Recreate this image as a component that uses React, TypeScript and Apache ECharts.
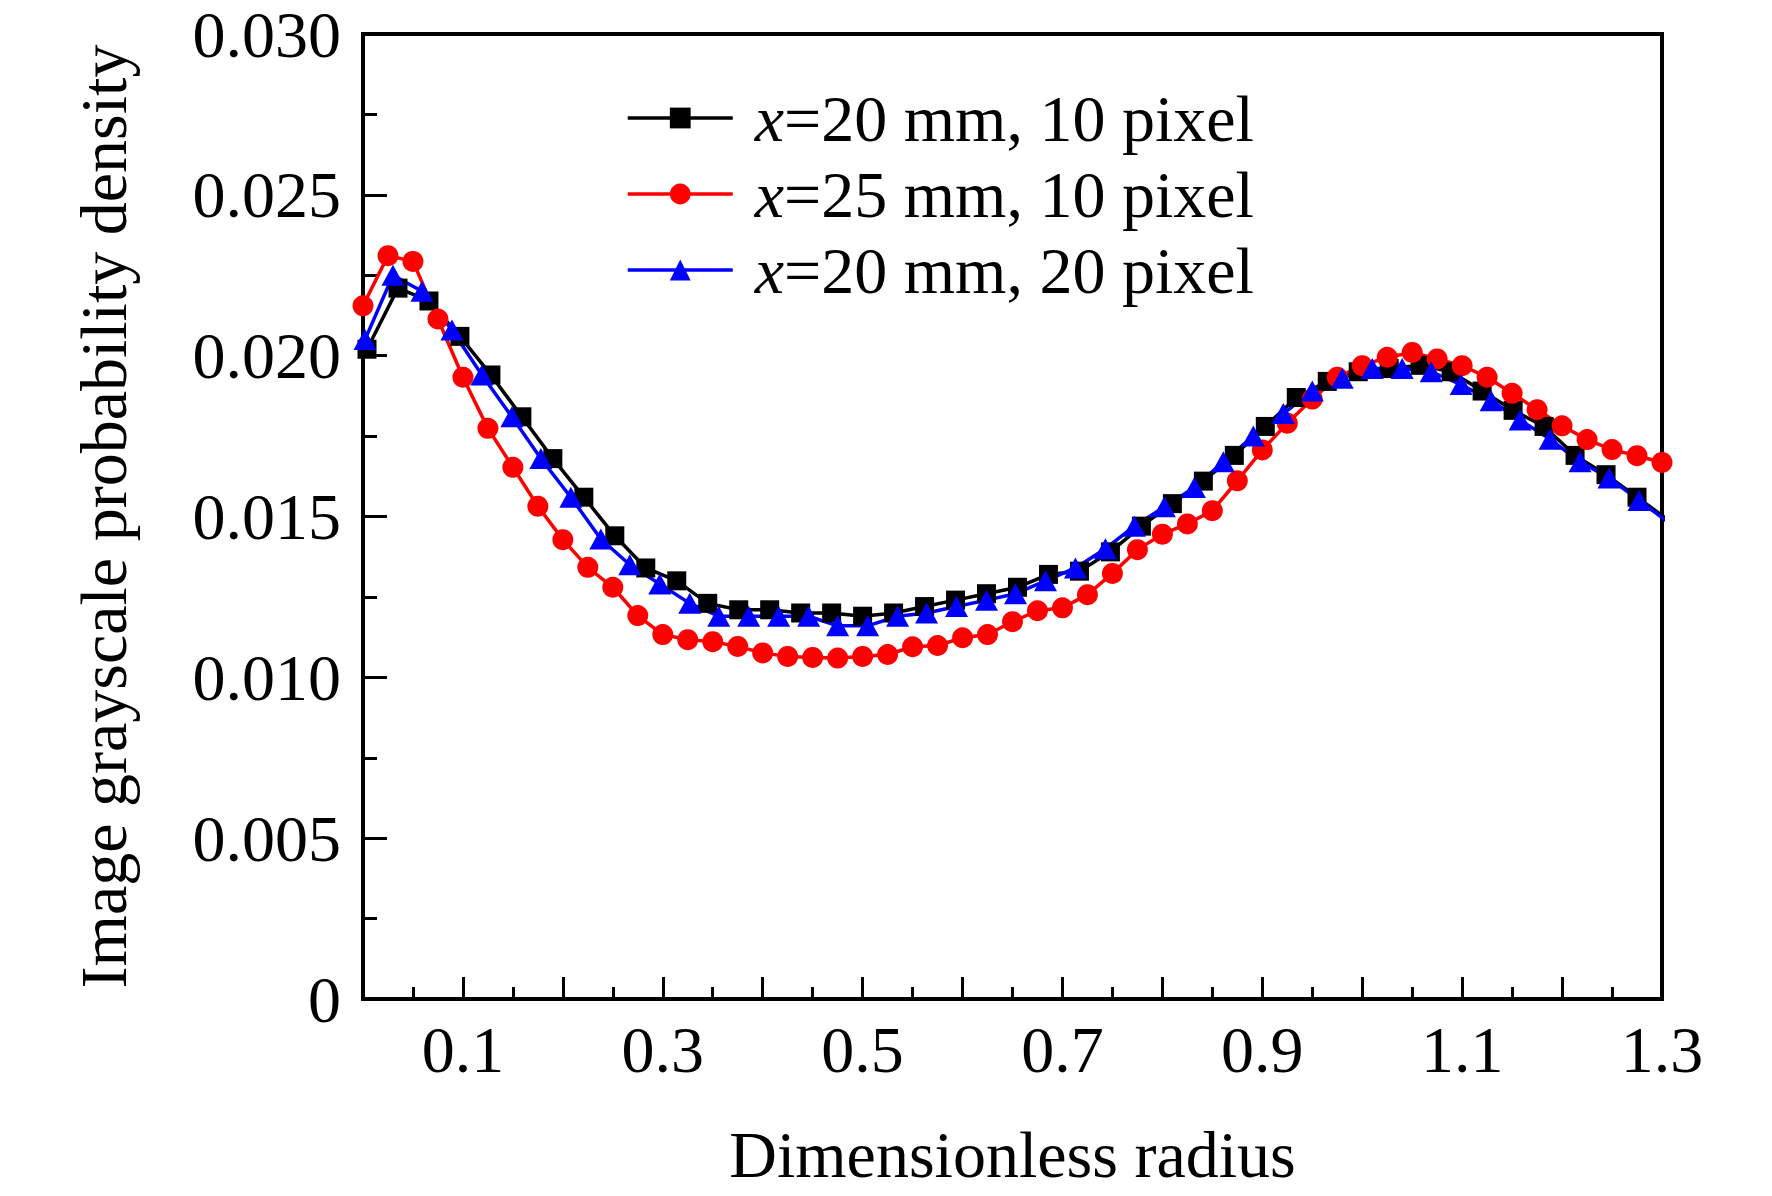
import React, { useEffect, useRef } from "react";
import * as echarts from "echarts";

const xTickLabels = ["", "0.1", "", "0.3", "", "0.5", "", "0.7", "", "0.9", "", "1.1", "", "1.3"];
const yTickLabels = ["0", "0.005", "0.010", "0.015", "0.020", "0.025", "0.030"];

const seriesNames = ["x=20 mm, 10 pixel", "x=25 mm, 10 pixel", "x=20 mm, 20 pixel"];

// x=20 mm, 10 pixel (black squares)
const blackX = [
  0.004, 0.035, 0.066, 0.097, 0.128, 0.159, 0.19, 0.221, 0.252, 0.283, 0.314, 0.345, 0.376, 0.407,
  0.438, 0.469, 0.5, 0.531, 0.562, 0.593, 0.624, 0.655, 0.686, 0.717, 0.748, 0.779, 0.81, 0.841,
  0.872, 0.903, 0.934, 0.965, 0.996, 1.027, 1.058, 1.089, 1.12, 1.151, 1.182, 1.213, 1.244, 1.275,
  1.306,
];
const blackY = [
  0.0202, 0.0221, 0.0217, 0.0206, 0.0194, 0.0181, 0.0168, 0.0156, 0.0144, 0.0134, 0.013, 0.0123,
  0.0121, 0.0121, 0.012, 0.012, 0.0119, 0.012, 0.0122, 0.0124, 0.0126, 0.0128, 0.0132, 0.0133,
  0.0139, 0.0147, 0.0154, 0.0161, 0.0169, 0.0178, 0.0187, 0.0192, 0.0195, 0.0196, 0.0197, 0.0195,
  0.0189, 0.0183, 0.0178, 0.0169, 0.0163, 0.0156, 0.0149,
];

// x=25 mm, 10 pixel (red circles)
const redX = [
  0, 0.025, 0.05, 0.075, 0.1, 0.125, 0.15, 0.175, 0.2, 0.225, 0.25, 0.275, 0.3, 0.325, 0.35, 0.375,
  0.4, 0.425, 0.45, 0.475, 0.5, 0.525, 0.55, 0.575, 0.6, 0.625, 0.65, 0.675, 0.7, 0.725, 0.75, 0.775,
  0.8, 0.825, 0.85, 0.875, 0.9, 0.925, 0.95, 0.975, 1.0, 1.025, 1.05, 1.075, 1.1, 1.125, 1.15, 1.175,
  1.2, 1.225, 1.25, 1.275, 1.3,
];
const redY = [
  0.02155, 0.02311, 0.02293, 0.02114, 0.01933, 0.01774, 0.01653, 0.01532, 0.01428, 0.01342, 0.0128,
  0.01192, 0.01133, 0.01117, 0.01111, 0.01096, 0.01076, 0.01065, 0.01062, 0.0106, 0.01065, 0.01071,
  0.01095, 0.01099, 0.01123, 0.01133, 0.01173, 0.01207, 0.01216, 0.01257, 0.01323, 0.01397, 0.01445,
  0.01477, 0.01518, 0.01611, 0.01707, 0.0179, 0.01865, 0.01933, 0.01969, 0.01995, 0.0201, 0.0199,
  0.01969, 0.01933, 0.01883, 0.01832, 0.01782, 0.01739, 0.01708, 0.01689, 0.01668,
];

// x=20 mm, 20 pixel (blue triangles)
const blueX = [
  0.002, 0.03, 0.059, 0.089, 0.119, 0.149, 0.178, 0.208, 0.238, 0.267, 0.297, 0.327, 0.356, 0.386,
  0.416, 0.446, 0.475, 0.505, 0.535, 0.564, 0.594, 0.624, 0.653, 0.683, 0.713, 0.743, 0.772, 0.802,
  0.832, 0.861, 0.891, 0.921, 0.95, 0.98, 1.01, 1.04, 1.069, 1.099, 1.129, 1.158, 1.188, 1.218,
  1.247, 1.277, 1.307,
];
const blueY = [
  0.0205, 0.0225, 0.022, 0.0208, 0.0194, 0.0181, 0.0168, 0.0156, 0.0143, 0.0135, 0.0129, 0.0123,
  0.0119, 0.0119, 0.0119, 0.0119, 0.0116, 0.0116, 0.0119, 0.012, 0.0122, 0.0124, 0.0126, 0.013,
  0.0134, 0.014, 0.0147, 0.0153, 0.0159, 0.0167, 0.0175, 0.0182, 0.0189, 0.0193, 0.0196, 0.0196,
  0.0195, 0.0191, 0.0186, 0.018, 0.0174, 0.0167, 0.0162, 0.0155, 0.0148,
];

const FONT = "'Liberation Serif', 'Times New Roman', serif";

const zip = (xs: number[], ys: number[]) => xs.map((x, i) => [x, ys[i]]);

export default function App() {
  const ref = useRef<HTMLDivElement>(null);
  useEffect(() => {
    document.body.style.margin = "0";
    if (!ref.current) return;
    const chart = echarts.init(ref.current, undefined, { renderer: "svg" });
    const mk = (name: string, xs: number[], ys: number[], color: string, symbol: string, size: any) => ({
      name,
      type: "line",
      data: zip(xs, ys),
      symbol,
      symbolSize: size,
      showSymbol: true,
      showAllSymbol: true,
      clip: true,
      lineStyle: { color, width: 3.5 },
      itemStyle: { color, borderWidth: 0 },
    });
    chart.setOption({
      animation: false,
      backgroundColor: "#fff",
      grid: {
        left: 363,
        top: 34,
        right: 110,
        bottom: 197,
        show: true,
        borderColor: "#000",
        borderWidth: 4,
        backgroundColor: "transparent",
      },
      legend: {
        orient: "vertical",
        left: 621,
        top: 80,
        itemWidth: 105,
        itemHeight: 26,
        itemGap: 10,
        data: seriesNames,
        lineStyle: { width: 3.5 },
        formatter: (n: string) => `{i|x}{n|${n.slice(1)}}`,
        textStyle: {
          fontFamily: FONT,
          fontSize: 66,
          color: "#000",
          rich: {
            i: { fontFamily: FONT, fontSize: 66, fontStyle: "italic", color: "#000", padding: [0, 0, 0, 17] },
            n: { fontFamily: FONT, fontSize: 66, color: "#000" },
          },
        },
      },
      xAxis: {
        type: "value",
        min: 0,
        max: 1.3,
        interval: 0.1,
        name: "Dimensionless radius",
        nameLocation: "middle",
        nameGap: 122,
        nameTextStyle: { fontFamily: FONT, fontSize: 66, color: "#000" },
        axisLine: { show: true, lineStyle: { color: "#000", width: 4 } },
        axisTick: { show: true, inside: true, length: 22, lineStyle: { color: "#000", width: 3 } },
        minorTick: { show: true, splitNumber: 2, length: 12, lineStyle: { color: "#000", width: 3 } },
        splitLine: { show: false },
        axisLabel: {
          fontFamily: FONT,
          fontSize: 66,
          lineHeight: 56,
          color: "#000",
          margin: 22,
          formatter: (_v: number, i: number) => xTickLabels[i] ?? "",
        },
      },
      yAxis: {
        type: "value",
        min: 0,
        max: 0.03,
        interval: 0.005,
        name: "Image grayscale probability density",
        nameLocation: "middle",
        nameGap: 227,
        nameTextStyle: { fontFamily: FONT, fontSize: 66, color: "#000" },
        axisLine: { show: true, lineStyle: { color: "#000", width: 4 } },
        axisTick: { show: true, inside: true, length: 24, lineStyle: { color: "#000", width: 3 } },
        minorTick: { show: true, splitNumber: 2, length: 14, lineStyle: { color: "#000", width: 3 } },
        splitLine: { show: false },
        axisLabel: {
          fontFamily: FONT,
          fontSize: 66,
          lineHeight: 56,
          color: "#000",
          margin: 22,
          formatter: (_v: number, i: number) => yTickLabels[i] ?? "",
        },
      },
      series: [
        mk(seriesNames[0], blackX, blackY, "#000000", "rect", 19),
        mk(seriesNames[1], redX, redY, "#ff0000", "circle", 21),
        mk(seriesNames[2], blueX, blueY, "#0000ff", "triangle", [23, 21]),
      ],
    });
    return () => chart.dispose();
  }, []);
  return <div ref={ref} style={{ width: 1772, height: 1196 }} />;
}
